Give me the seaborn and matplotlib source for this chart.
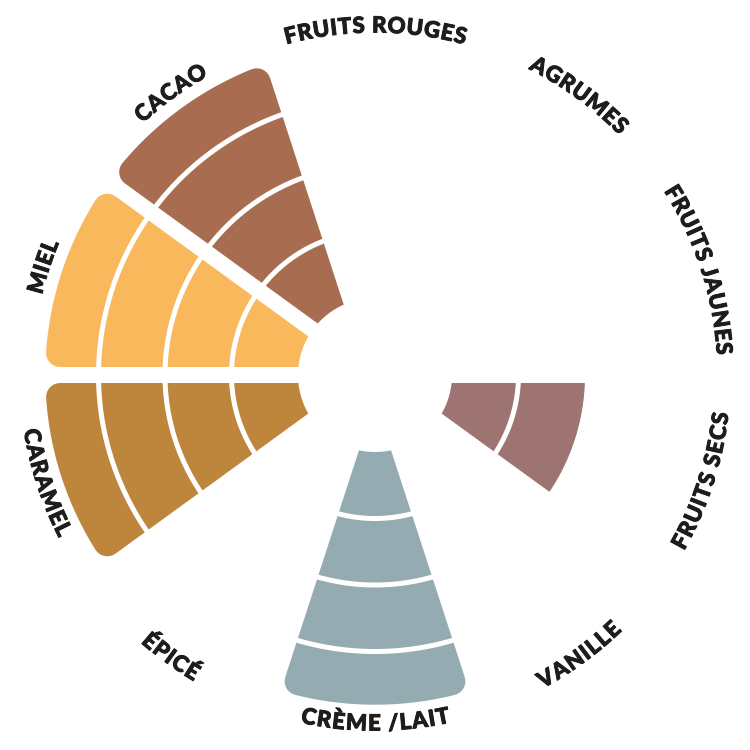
import numpy as np
import pandas as pd
import seaborn as sns
import matplotlib.pyplot as plt
from matplotlib import font_manager
import matplotlib.patheffects as pe

# aroma wheel: one slice per family, one ring per intensity step
categories = ['FRUITS ROUGES', 'AGRUMES', 'FRUITS JAUNES', 'FRUITS SECS', 'VANILLE',
              'CRÈME /LAIT', 'ÉPICÉ', 'CARAMEL', 'MIEL', 'CACAO']
intensity = [0, 0, 0, 2, 0, 3.8, 0, 3.8, 3.8, 3.8]
colors = ['#c25a5c', '#e9a23b', '#f3c64f', '#9e7473', '#e6d3ae',
          '#94abb1', '#8c5b3d', '#be853c', '#f8b85b', '#a86d51']

df = pd.DataFrame({'category': categories, 'intensity': intensity, 'color': colors})

DPI = 100
HOLE = 77.0          # radius of the empty centre, px
BAND = 66.5          # px per intensity step
GAP = 8.0            # half of the white gap between slices, px
RC = 14.0            # corner rounding on the full slices, px
R_LABEL = 349
FS = 16
TRACK = 1.0
RING_LW = 5 * 72 / DPI

sns.set_theme(style='white')
plt.rcParams['font.family'] = ['Lato', 'DejaVu Sans']

fig = plt.figure(figsize=(7.5, 7.5), dpi=DPI)
ax = fig.add_axes([0, 0, 1, 1], projection='polar')
ax.set_theta_zero_location('N')
ax.set_theta_direction(-1)
ax.set_ylim(0, 375)
ax.axis('off')

n = len(df)
step = 2 * np.pi / n
theta = np.arange(n) * step

for i, row in df.iterrows():
    lvl = row['intensity']
    if lvl == 0:
        continue
    rc = RC if lvl >= 3 else 0.5
    d = GAP + rc
    r_out = HOLE + lvl * BAND
    lo, hi = theta[i] - step / 2, theta[i] + step / 2
    # slice outline pulled in by gap + corner radius, then grown back with a round stroke
    r = np.linspace(d / np.sin(step / 2), r_out - rc, 120)
    left = lo + np.arcsin(d / r)
    right = hi - np.arcsin(d / r)
    arc = np.linspace(left[-1], right[-1], 60)
    th = np.concatenate([left, arc, right[::-1]])
    rr = np.concatenate([r, np.full(arc.size, r_out - rc), r[::-1]])
    ax.fill(th, rr, facecolor=row['color'], edgecolor=row['color'],
            linewidth=2 * rc * 72 / DPI, joinstyle='round' if lvl >= 3 else 'miter', zorder=2)
    # white rings between intensity steps
    ring_th = np.linspace(lo, hi, 80)
    for k in range(1, int(np.ceil(lvl))):
        ax.plot(ring_th, np.full(ring_th.size, HOLE + k * BAND), color='white',
                linewidth=RING_LW, solid_capstyle='butt', zorder=3)

full = np.linspace(0, 2 * np.pi, 361)
ax.fill(full, np.full(full.size, HOLE), color='white', linewidth=0, zorder=4)

# curved labels, letter by letter
fp = font_manager.FontProperties(family='Lato', weight='black', size=FS)
font = font_manager.get_font(font_manager.findfont(fp))
font.set_size(FS, DPI)
ink = '#1d1d1b'
for i, label in enumerate(categories):
    adv = np.array([font.load_char(ord(c)).linearHoriAdvance / 65536 + TRACK for c in label])
    total = adv.sum() - TRACK
    centers = np.cumsum(adv) - adv / 2 - total / 2
    deg = np.degrees(theta[i])
    top = deg < 90 or deg > 270
    for ch, s in zip(label, centers):
        off = s / R_LABEL
        t = theta[i] + off if top else theta[i] - off
        rot = -np.degrees(t) if top else 180 - np.degrees(t)
        ax.text(t, R_LABEL, ch, fontproperties=fp, color=ink, rotation=rot,
                rotation_mode='anchor', ha='center', va='center', zorder=5,
                path_effects=[pe.withStroke(linewidth=0.7, foreground=ink)])

fig.savefig('out.png', dpi=DPI, facecolor='white')
